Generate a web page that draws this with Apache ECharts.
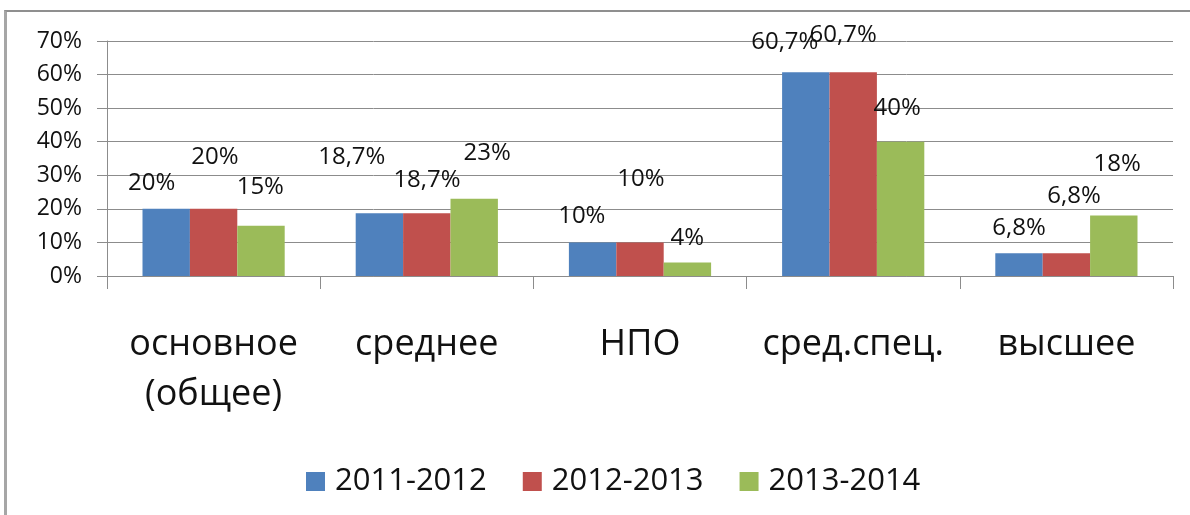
<!DOCTYPE html>
<html>
<head>
<meta charset="utf-8">
<script src="https://cdn.jsdelivr.net/npm/echarts@6/dist/echarts.min.js"></script>
<style>
  html, body { margin: 0; padding: 0; background: #fff; }
  #wrap { position: relative; width: 1190px; height: 515px; overflow: hidden; }
  #chart { position: absolute; left: 0; top: 0; width: 1190px; height: 515px; }
  #frame { position: absolute; left: 4px; top: 10px; width: 1190px; height: 510px;
           border-left: 3px solid #a6a6a6; border-top: 2px solid #8f8f8f; pointer-events: none; }
</style>
</head>
<body>
<div id="wrap">
  <div id="chart"></div>
  <div id="frame"></div>
</div>
<script>
// ---- data ----
const categories = ['основное\n(общее)', 'среднее', 'НПО', 'сред.спец.', 'высшее'];
const seriesNames = ['2011-2012', '2012-2013', '2013-2014'];
const values2011 = [20, 18.7, 10, 60.7, 6.8];
const values2012 = [20, 18.7, 10, 60.7, 6.8];
const values2013 = [15, 23, 4, 40, 18];
const yTicks = [0, 10, 20, 30, 40, 50, 60, 70];

// ---- styling (manual label placement as in the original) ----
const colors = ['#4F81BD', '#C0504D', '#9BBB59'];
const labelOffsets = [
  [[-14.5, -12.9], [-27.6, -43.2], [-10.8, -13.4], [-21, -17.2], [0, -12.2]],
  [[1.4, -38.9], [0.2, -20.2], [1, -50.4], [-10, -23.7], [7.6, -44.2]],
  [[-0.7, -25.6], [13, -32.8], [0, -11.6], [-3.4, -20.7], [3.4, -38.6]]
];
const FONT = "'Open Sans', sans-serif";
const TXT = '#111';

function fmt(v) { return String(v).replace('.', ',') + '%'; }

const allValues = [values2011, values2012, values2013];
const series = allValues.map((vals, si) => ({
  name: seriesNames[si],
  type: 'bar',
  barGap: '0%',
  barCategoryGap: '33.3%',
  itemStyle: { color: colors[si] },
  data: vals.map((v, ci) => ({
    value: v,
    label: { offset: labelOffsets[si][ci] }
  })),
  label: {
    show: true,
    position: 'top',
    distance: 0,
    fontFamily: FONT,
    fontSize: 24,
    lineHeight: 26,
    color: TXT,
    formatter: p => fmt(p.value)
  },
  z: 2
}));

const chart = echarts.init(document.getElementById('chart'), null, { renderer: 'canvas' });
chart.setOption({
  animation: false,
  backgroundColor: 'transparent',
  textStyle: { fontFamily: FONT },
  grid: { left: 107, right: 17, top: 41, bottom: 239, containLabel: false },
  legend: {
    data: seriesNames,
    left: 301,
    top: 461,
    icon: 'rect',
    itemWidth: 19,
    itemHeight: 19,
    itemGap: 36,
    textStyle: { fontFamily: FONT, fontSize: 31, color: TXT, padding: [0, 0, 0, 5] }
  },
  xAxis: {
    type: 'category',
    data: categories,
    axisLine: { show: true, lineStyle: { color: '#8c8c8c', width: 1 } },
    axisTick: { show: true, length: 13, lineStyle: { color: '#8c8c8c' } },
    axisLabel: {
      fontFamily: FONT, fontSize: 36, lineHeight: 50, color: TXT, margin: 44, interval: 0
    },
    splitLine: { show: false }
  },
  yAxis: {
    type: 'value',
    min: yTicks[0],
    max: yTicks[yTicks.length - 1],
    interval: 10,
    axisLine: { show: true, lineStyle: { color: '#8c8c8c', width: 1 } },
    axisTick: { show: true, length: 10, lineStyle: { color: '#8c8c8c' } },
    axisLabel: { fontFamily: FONT, fontSize: 23, color: TXT, margin: 25, formatter: '{value}%' },
    splitLine: { show: true, lineStyle: { color: '#8c8c8c', width: 1 } }
  },
  series: series
});
</script>
</body>
</html>
